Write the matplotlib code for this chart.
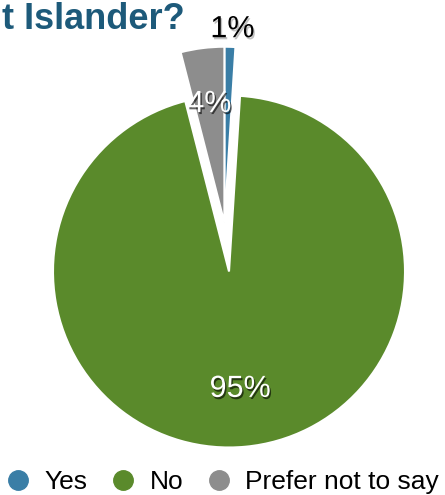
import numpy as np
import matplotlib
matplotlib.use("Agg")
import matplotlib.pyplot as plt
import matplotlib.patheffects as pe
from matplotlib.lines import Line2D

plt.rcParams['font.family'] = ['Liberation Sans', 'DejaVu Sans']

answers = ['Yes', 'No', 'Prefer not to say']
percents = [1, 95, 4]
colors = ['#3a7ea6', '#5a8a2b', '#8d8d8d']
title = 'Are you Aboriginal or Torres Strait Islander?'

W, H = 445, 495
fig = plt.figure(figsize=(W / 100, H / 100), dpi=100)
ax = fig.add_axes([0, 0, 1, 1])

cx, cy, r = 229, H - 271.5, 176
wedges, _ = ax.pie(percents, colors=colors, startangle=90, counterclock=False,
                   center=(cx, cy), radius=r,
                   wedgeprops=dict(edgecolor='white', linewidth=1.5))
ax.set_xlim(0, W)
ax.set_ylim(0, H)
ax.set_aspect('equal')
ax.axis('off')

# pull "Yes" and "Prefer not to say" out together along their shared bisector
group_mid = np.deg2rad(90 + (percents[2] - percents[0]) / 2 * 3.6)
shift = 49
sx, sy = cx + shift * np.cos(group_mid), cy + shift * np.sin(group_mid)
for i in (0, 2):
    wedges[i].set_center((sx, sy))

shadow_dark = [pe.withSimplePatchShadow(offset=(1, -1.5), shadow_rgbFace='black', alpha=0.6)]
shadow_light = [pe.withSimplePatchShadow(offset=(1, -1.5), shadow_rgbFace='#999999', alpha=0.6)]

label_pos = {0: 1.10, 1: 0.67, 2: 0.68}
for i, w in enumerate(wedges):
    mid = np.deg2rad((w.theta1 + w.theta2) / 2)
    ox, oy = w.center
    d = label_pos[i] * r
    outside = label_pos[i] > 1
    ax.text(ox + d * np.cos(mid) + (2 if outside else 0), oy + d * np.sin(mid),
            f'{percents[i]}%', ha='center', va='center', fontsize=22,
            color='black' if outside else 'white',
            path_effects=shadow_light if outside else shadow_dark)

fig.text(185 / W, 1 - 29 / H, title, ha='right', va='baseline',
         fontsize=26, fontweight='bold', color='#1d5a7a')

handles = [Line2D([], [], linestyle='none', marker='o', markersize=14,
                  markerfacecolor=c, markeredgecolor=c) for c in colors]
fig.legend(handles, answers, loc='center left', bbox_to_anchor=(4.8 / W, 13 / H),
           ncol=3, frameon=False, fontsize=19, handlelength=1.0,
           handletextpad=0.5, columnspacing=0.85, borderpad=0, borderaxespad=0)

fig.savefig('out.png', dpi=100)
